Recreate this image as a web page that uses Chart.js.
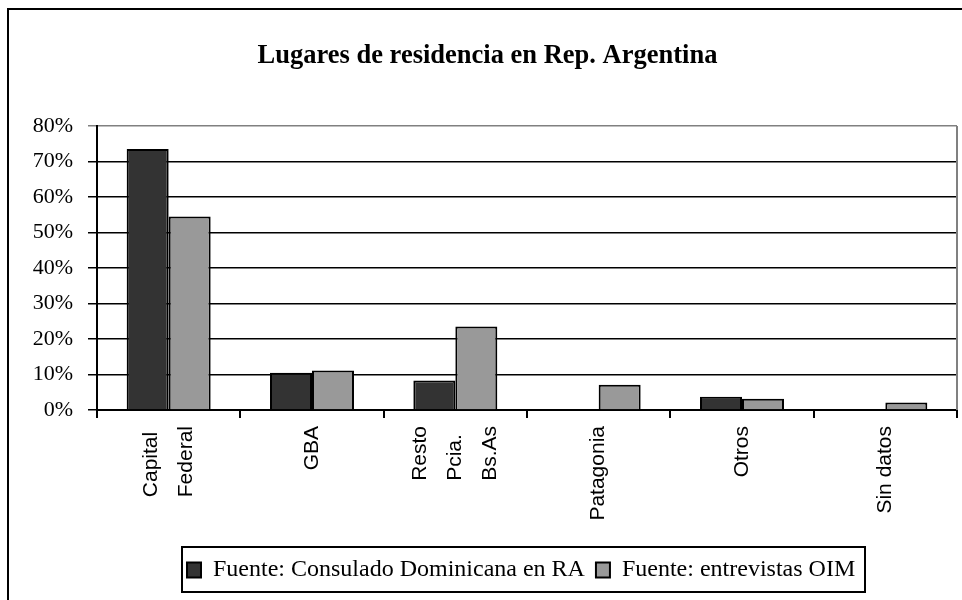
<!DOCTYPE html>
<html><head><meta charset="utf-8">
<script src="https://cdn.jsdelivr.net/npm/chart.js@4.4.1/dist/chart.umd.min.js"></script>
<style>html,body{margin:0;padding:0;background:#fff}#wrap{width:962px;height:600px;position:relative}</style>
</head><body><div id="wrap"><canvas id="c"></canvas></div>
<script>
const categories = [["Capital","Federal"],"GBA",["Resto","Pcia.","Bs.As"],"Patagonia","Otros","Sin datos"];
const consulado = [73.5, 10.5, 8.3, 0, 3.7, 0];
const entrevistas = [54.5, 11.1, 23.5, 7.1, 3.2, 2.1];
const seriesNames = ["Fuente: Consulado Dominicana en RA","Fuente: entrevistas OIM"];
const yMin = 0, yMax = 80, yStep = 10;
const titleText = "Lugares de residencia en Rep. Argentina";

const tweaks = {
  id: 'tweaks',
  afterLayout(chart) {
    const t = chart.titleBlock;
    if (t) { t.left += 9; t.right += 9; }
    const lg = chart.legend;
    if (lg && lg.lineWidths) {
      const pad = lg.options.labels.padding;
      const lw = lg.lineWidths[0];
      const start = (lg.left + pad + lg.right - lw) / 2;
      const shift = 187 - start;
      lg.left += shift; lg.right += shift;
      lg._frame = { x: 182, w: 683 };
    }
  },
  beforeDraw(chart) {
    const sc = chart.scales.x;
    const items = sc.getLabelItems();
    const ctx = chart.ctx;
    items.forEach(it => {
      if (it._done) return;
      it._done = true;
      const lines = Array.isArray(it.label) ? it.label : [it.label];
      const lh = it.font.lineHeight;
      ctx.save();
      ctx.font = it.font.string;
      let mw = 0;
      lines.forEach(l => { mw = Math.max(mw, ctx.measureText(l).width); });
      ctx.restore();
      it.options.translation = [it.options.translation[0] - (lines.length - 1) * lh / 2, it.options.translation[1] + mw];
      it.options.textAlign = 'left';
    });
  },
  afterDraw(chart) {
    const ctx = chart.ctx;
    const ca = chart.chartArea;
    ctx.save();
    ctx.strokeStyle = '#808080';
    ctx.lineWidth = 2;
    ctx.beginPath();
    ctx.moveTo(ca.right, ca.top);
    ctx.lineTo(ca.right, ca.bottom);
    ctx.stroke();
    const lg = chart.legend;
    if (lg && lg._frame) {
      ctx.strokeStyle = '#000';
      ctx.lineWidth = 2;
      ctx.strokeRect(lg._frame.x, lg.top, lg._frame.w, 45);
    }
    ctx.strokeStyle = '#000';
    ctx.lineWidth = 2;
    ctx.beginPath();
    ctx.moveTo(8, 605);
    ctx.lineTo(8, 9);
    ctx.lineTo(970, 9);
    ctx.stroke();
    ctx.restore();
  }
};

new Chart(document.getElementById('c'), {
  type: 'bar',
  data: {
    labels: categories,
    datasets: [
      { label: seriesNames[0], data: consulado, backgroundColor: '#333333', borderColor: '#000', borderWidth: 2, categoryPercentage: 0.586, barPercentage: 1 },
      { label: seriesNames[1], data: entrevistas, backgroundColor: '#999999', borderColor: '#000', borderWidth: 2, categoryPercentage: 0.586, barPercentage: 1 }
    ]
  },
  plugins: [tweaks],
  options: {
    responsive: true,
    maintainAspectRatio: false,
    animation: false,
    layout: { padding: { left: 0, right: 5, top: 0, bottom: 8 } },
    plugins: {
      title: { display: true, text: titleText, color: '#000',
        font: { family: '"Liberation Serif"', size: 26.5, weight: 'bold', lineHeight: '30px' },
        padding: { top: 41, bottom: 55 } },
      legend: { position: 'bottom',
        labels: { color: '#000', font: { family: '"Liberation Serif"', size: 24 }, boxWidth: 14, boxHeight: 15, padding: 11 } },
      tooltip: { enabled: false }
    },
    scales: {
      x: {
        grid: { display: true, drawOnChartArea: false, drawTicks: true, tickLength: 8, color: '#000', lineWidth: 2, offset: true },
        border: { color: '#000', width: 2 },
        ticks: { color: '#000', font: { family: '"Liberation Sans"', size: 21, lineHeight: '35px' },
          maxRotation: 90, minRotation: 90, autoSkip: false, padding: 8 },
        afterFit(s) { s.height = 137; }
      },
      y: {
        min: yMin, max: yMax,
        ticks: { stepSize: yStep, callback: v => v + '%', color: '#000', font: { family: '"Liberation Serif"', size: 22 }, padding: 15 },
        grid: { color: c => (c.tick && c.tick.value === yMax) ? '#808080' : '#000', lineWidth: 1.5, tickLength: 9 },
        border: { color: '#000', width: 2 },
        afterFit(s) { s.width = 97; }
      }
    }
  }
});
</script></body></html>
